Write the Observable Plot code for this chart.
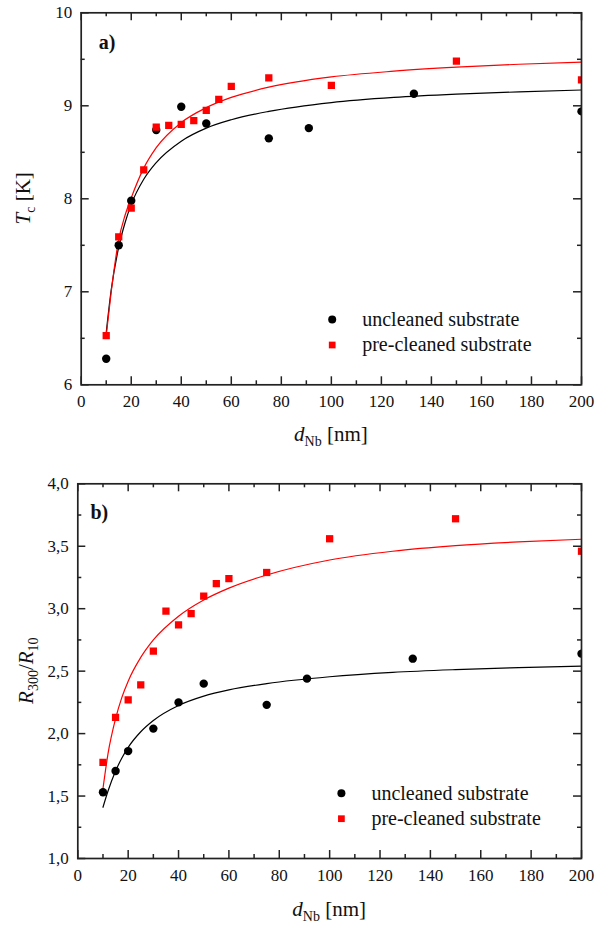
<!DOCTYPE html>
<html>
<head>
<meta charset="utf-8">
<script src="https://cdn.jsdelivr.net/npm/d3@7"></script>
<script src="https://cdn.jsdelivr.net/npm/@observablehq/plot@0.6"></script>
<style>
  body { margin: 0; background: #fff; }
  svg { display: block; }
</style>
</head>
<body>
<div id="chart"></div>
<script>
// ---- Panel a: critical temperature T_c versus Nb film thickness ----
const tcUncleanedD = [10, 15, 20, 30, 40, 50, 75, 91, 133, 200];
const tcUncleaned  = [6.28, 7.50, 7.98, 8.74, 8.99, 8.81, 8.65, 8.76, 9.13, 8.94];
const tcPrecleanedD = [10, 15, 20, 25, 30, 35, 40, 45, 50, 55, 60, 75, 100, 150, 200];
const tcPrecleaned  = [6.53, 7.59, 7.90, 8.31, 8.77, 8.79, 8.80, 8.84, 8.95, 9.07, 9.21, 9.30, 9.22, 9.48, 9.28];

// ---- Panel b: residual resistance ratio R300/R10 versus Nb film thickness ----
const rrUncleanedD = [10, 15, 20, 30, 40, 50, 75, 91, 133, 200];
const rrUncleaned  = [1.53, 1.70, 1.86, 2.04, 2.25, 2.40, 2.23, 2.44, 2.60, 2.64];
const rrPrecleanedD = [10, 15, 20, 25, 30, 35, 40, 45, 50, 55, 60, 75, 100, 150, 200];
const rrPrecleaned  = [1.77, 2.13, 2.27, 2.39, 2.66, 2.98, 2.87, 2.96, 3.10, 3.20, 3.24, 3.29, 3.56, 3.72, 3.46];

// ---- Fit curves, sampled along the thickness axis ----
const fitD = [10, 12, 15, 17.5, 20, 25, 30, 40, 50, 60, 75, 100, 125, 150, 175, 200];
const tcFitUncleaned  = [6.56, 7.02, 7.48, 7.74, 7.94, 8.21, 8.39, 8.62, 8.76, 8.85, 8.94, 9.035, 9.09, 9.125, 9.15, 9.17];
const tcFitPrecleaned = [6.53, 7.00, 7.56, 7.82, 8.01, 8.33, 8.55, 8.82, 8.98, 9.09, 9.20, 9.31, 9.372, 9.415, 9.447, 9.47];
const rrFitUncleaned  = [1.41, 1.54, 1.70, 1.805, 1.89, 2.015, 2.105, 2.225, 2.30, 2.35, 2.40, 2.455, 2.49, 2.512, 2.528, 2.541];
const rrFitPrecleaned = [1.56, 1.84, 2.12, 2.29, 2.42, 2.61, 2.75, 2.94, 3.07, 3.165, 3.27, 3.39, 3.46, 3.505, 3.535, 3.556];

// ---- Ticks and labels ----
const xMajor = [0, 20, 40, 60, 80, 100, 120, 140, 160, 180, 200];
const xMinor = [10, 30, 50, 70, 90, 110, 130, 150, 170, 190];
const tcMajor = [6, 7, 8, 9, 10];
const tcMinor = [6.5, 7.5, 8.5, 9.5];
const rrMajor = [1.0, 1.5, 2.0, 2.5, 3.0, 3.5, 4.0];
const rrMinor = [1.25, 1.75, 2.25, 2.75, 3.25, 3.75];
const seriesNames = ["uncleaned substrate", "pre-cleaned substrate"];
const panelNames = ["a)", "b)"];

const FONT = "'Liberation Serif', 'Times New Roman', serif";
const AXIS = "#222";
const RED = "#ff0000";

const pairs = (xs, ys) => xs.map((x, i) => ({x, y: ys[i]}));

function panel({height, margin, yDomain, yMajorTicks, yMinorTicks, yFormat,
                black, red, blackFit, redFit, label, labelPos, legendPos}) {
  const width = 597;
  const innerW = width - margin.left - margin.right;
  const innerH = height - margin.top - margin.bottom;
  const tickStyle = {stroke: AXIS, strokeWidth: 1.5};
  return Plot.plot({
    width, height,
    marginTop: margin.top, marginRight: margin.right,
    marginBottom: margin.bottom, marginLeft: margin.left,
    x: {domain: [0, 200]},
    y: {domain: yDomain},
    style: {fontFamily: FONT, fontSize: "17px", color: "#111", background: "#fff"},
    marks: [
      // fitted curves
      Plot.line(blackFit, {x: "x", y: "y", curve: "monotone-x", stroke: "black", strokeWidth: 1.2}),
      Plot.line(redFit, {x: "x", y: "y", curve: "monotone-x", stroke: RED, strokeWidth: 1.2}),
      // measurements
      Plot.dot(black, {x: "x", y: "y", r: 4.2, fill: "black", clip: true}),
      Plot.dot(red, {x: "x", y: "y", r: 4.1, symbol: "square", fill: RED, clip: true}),
      // inward ticks on all four sides
      Plot.tickX(xMajor, {x: d => d, insetTop: innerH - 8, ...tickStyle}),
      Plot.tickX(xMinor, {x: d => d, insetTop: innerH - 4, ...tickStyle}),
      Plot.tickX(xMajor, {x: d => d, insetBottom: innerH - 8, ...tickStyle}),
      Plot.tickX(xMinor, {x: d => d, insetBottom: innerH - 4, ...tickStyle}),
      Plot.tickY(yMajorTicks, {y: d => d, insetRight: innerW - 8, ...tickStyle}),
      Plot.tickY(yMinorTicks, {y: d => d, insetRight: innerW - 4, ...tickStyle}),
      Plot.tickY(yMajorTicks, {y: d => d, insetLeft: innerW - 8, ...tickStyle}),
      Plot.tickY(yMinorTicks, {y: d => d, insetLeft: innerW - 4, ...tickStyle}),
      // tick labels
      Plot.axisX({ticks: xMajor, tickSize: 0, tickPadding: 10.5, label: null, fontSize: 17, fontFamily: FONT}),
      Plot.axisY({ticks: yMajorTicks, tickSize: 0, tickPadding: 9, label: null, fontSize: 17, fontFamily: FONT, tickFormat: yFormat}),
      Plot.frame({stroke: AXIS, strokeWidth: 1.7}),
      // panel label
      Plot.text([label], {text: d => d, frameAnchor: "top-left", dx: labelPos[0], dy: labelPos[1],
        textAnchor: "start", lineAnchor: "middle", fontSize: 20, fontWeight: "bold", fontFamily: FONT}),
      // legend
      Plot.dot([0], {frameAnchor: "top-left", dx: legendPos[0], dy: legendPos[1], r: 4, fill: "black"}),
      Plot.dot([0], {frameAnchor: "top-left", dx: legendPos[0], dy: legendPos[1] + 25.5, r: 3.8, symbol: "square", fill: RED}),
      Plot.text([seriesNames[0]], {text: d => d, frameAnchor: "top-left", dx: legendPos[0] + 30, dy: legendPos[1],
        textAnchor: "start", lineAnchor: "middle", fontSize: 20, fontFamily: FONT}),
      Plot.text([seriesNames[1]], {text: d => d, frameAnchor: "top-left", dx: legendPos[0] + 30, dy: legendPos[1] + 25.5,
        textAnchor: "start", lineAnchor: "middle", fontSize: 20, fontFamily: FONT})
    ]
  });
}

// Axis titles with italic symbols and subscripts
function addTitle(svg, x, y, parts, rotate) {
  const t = d3.select(svg).append("text")
    .attr("transform", `translate(${x},${y})` + (rotate ? " rotate(-90)" : ""))
    .attr("text-anchor", "middle")
    .attr("font-family", FONT)
    .attr("font-size", 21)
    .attr("fill", "#111");
  let shift = 0;
  for (const p of parts) {
    const s = t.append("tspan").text(p.t);
    if (p.i) s.attr("font-style", "italic");
    const target = p.sub ? 5 : 0;
    if (target !== shift) { s.attr("dy", target - shift); shift = target; }
    if (p.sub) s.attr("font-size", 14);
  }
}

const root = document.getElementById("chart");

const svgA = panel({
  height: 460,
  margin: {top: 12.3, right: 16, bottom: 75.7, left: 80.7},
  yDomain: [6, 10], yMajorTicks: tcMajor, yMinorTicks: tcMinor, yFormat: d => String(d),
  black: pairs(tcUncleanedD, tcUncleaned), red: pairs(tcPrecleanedD, tcPrecleaned),
  blackFit: pairs(fitD, tcFitUncleaned), redFit: pairs(fitD, tcFitPrecleaned),
  label: panelNames[0], labelPos: [17.6, 29.7], legendPos: [251, 306.7]
});
addTitle(svgA, 330.9, 441, [{t: "d", i: true}, {t: "Nb", sub: true}, {t: " [nm]"}]);
addTitle(svgA, 30, 198.3, [{t: "T", i: true}, {t: "c", sub: true}, {t: " [K]"}], true);
root.appendChild(svgA);

const svgB = panel({
  height: 468,
  margin: {top: 23.3, right: 16, bottom: 70, left: 77.3},
  yDomain: [1, 4], yMajorTicks: rrMajor, yMinorTicks: rrMinor, yFormat: d => d.toFixed(1).replace(".", ","),
  black: pairs(rrUncleanedD, rrUncleaned), red: pairs(rrPrecleanedD, rrPrecleaned),
  blackFit: pairs(fitD, rrFitUncleaned), redFit: pairs(fitD, rrFitPrecleaned),
  label: panelNames[1], labelPos: [12.7, 28.7], legendPos: [263.6, 309.4]
});
addTitle(svgB, 329.2, 456, [{t: "d", i: true}, {t: "Nb", sub: true}, {t: " [nm]"}]);
addTitle(svgB, 33, 210.7, [{t: "R", i: true}, {t: "300", sub: true}, {t: "/"}, {t: "R", i: true}, {t: "10", sub: true}], true);
root.appendChild(svgB);
</script>
</body>
</html>
